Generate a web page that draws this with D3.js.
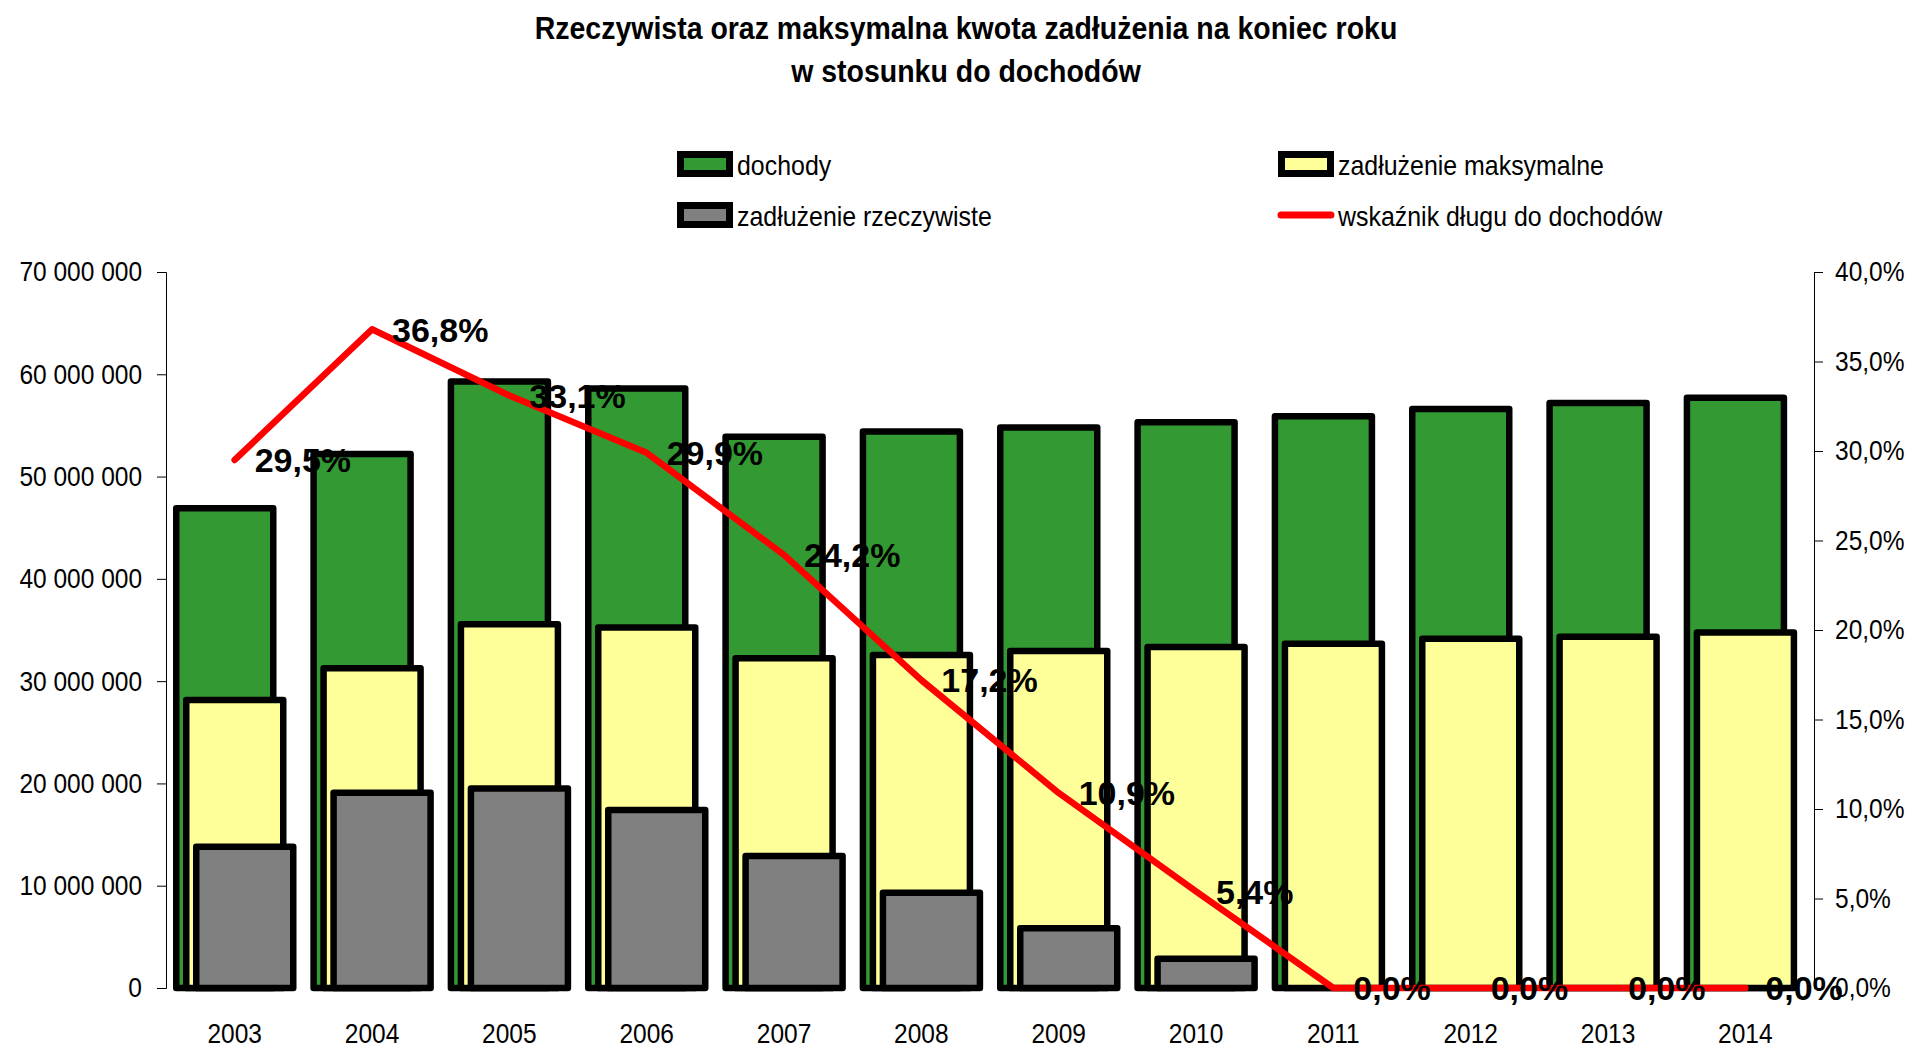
<!DOCTYPE html>
<html><head><meta charset="utf-8">
<script src="https://cdn.jsdelivr.net/npm/d3@7"></script>
<style>
html,body{margin:0;padding:0;background:#fff;}
svg{display:block;}
text{font-family:"Liberation Sans",Arial,sans-serif;}
</style></head>
<body>
<svg id="chart" width="1913" height="1048"></svg>
<script>
const years = ['2003','2004','2005','2006','2007','2008','2009','2010','2011','2012','2013','2014'];
const dochody = [46.9e6, 52.2e6, 59.3e6, 58.6e6, 53.9e6, 54.4e6, 54.8e6, 55.3e6, 55.9e6, 56.6e6, 57.2e6, 57.7e6];
const zadluzenieMaks = [28.15e6, 31.25e6, 35.55e6, 35.25e6, 32.25e6, 32.55e6, 32.95e6, 33.35e6, 33.65e6, 34.15e6, 34.35e6, 34.75e6];
const zadluzenieRzecz = [13.8e6, 19.1e6, 19.5e6, 17.4e6, 12.9e6, 9.3e6, 5.85e6, 2.85e6, 0, 0, 0, 0];
const wskaznik = [29.5, 36.8, 33.1, 29.9, 24.2, 17.2, 10.9, 5.4, 0.0, 0.0, 0.0, 0.0];
const leftTicks = [0, 10e6, 20e6, 30e6, 40e6, 50e6, 60e6, 70e6];
const rightTicks = [0, 5, 10, 15, 20, 25, 30, 35, 40];
const titleLines = ['Rzeczywista oraz maksymalna kwota zadłużenia na koniec roku', 'w stosunku do dochodów'];
const legendItems = [
  {name:'dochody', type:'rect', color:'#339933', col:0, row:0},
  {name:'zadłużenie maksymalne', type:'rect', color:'#FFFF99', col:1, row:0},
  {name:'zadłużenie rzeczywiste', type:'rect', color:'#808080', col:0, row:1},
  {name:'wskaźnik długu do dochodów', type:'line', color:'#FF0000', col:1, row:1}
];

const svg = d3.select('#chart');
const L = 166, R = 1814, T = 272, B = 988;
const x = d3.scaleBand().domain(years).range([L, R]).padding(0);
const yL = d3.scaleLinear().domain([0, 70e6]).range([B, T]);
const yR = d3.scaleLinear().domain([0, 40]).range([B, T]);
const bw = x.bandwidth();
const SW = 6.5;
const fmtL = v => d3.format(',')(v).replace(/,/g, ' ');
const fmtP = v => d3.format('.1f')(v).replace('.', ',') + '%';

function squeeze(sel, f) {
  sel.each(function() {
    const w = this.getComputedTextLength();
    this.setAttribute('textLength', (w * f).toFixed(2));
    this.setAttribute('lengthAdjust', 'spacingAndGlyphs');
  });
}

// title
const tt = svg.append('g').selectAll('text').data(titleLines).join('text')
  .attr('x', 966).attr('y', (d,i) => 39 + i*43)
  .attr('text-anchor','middle').attr('font-weight','bold').attr('font-size', 32)
  .text(d => d);
squeeze(tt, 0.89);

// axes
const gl = svg.append('g').attr('transform', `translate(${L},0)`)
  .call(d3.axisLeft(yL).tickValues(leftTicks).tickFormat(fmtL).tickSize(9).tickPadding(15));
const gr = svg.append('g').attr('transform', `translate(${R},0)`)
  .call(d3.axisRight(yR).tickValues(rightTicks).tickFormat(fmtP).tickSize(9).tickPadding(12));
[gl, gr].forEach(g => {
  g.select('.domain').attr('stroke','#000').attr('stroke-width',1);
  g.selectAll('.tick line').attr('stroke','#000').attr('stroke-width',1);
  g.selectAll('.tick text').attr('font-family','"Liberation Sans",Arial,sans-serif').attr('font-size',28).attr('fill','#000');
  squeeze(g.selectAll('.tick text'), 0.875);
});

// x labels
const gx = svg.append('g').attr('transform', `translate(0,${B})`)
  .call(d3.axisBottom(x).tickSize(0).tickPadding(35));
gx.select('.domain').remove();
gx.selectAll('.tick text').attr('font-family','"Liberation Sans",Arial,sans-serif').attr('font-size',28).attr('fill','#000');
squeeze(gx.selectAll('.tick text'), 0.875);

// bars
const series = [
  {vals: dochody, color:'#339933', off: 10.25},
  {vals: zadluzenieMaks, color:'#FFFF99', off: 20.25},
  {vals: zadluzenieRzecz, color:'#808080', off: 30.25}
];
const barW = 97;
series.forEach(s => {
  svg.append('g').selectAll('rect')
    .data(years.map((yr,i) => ({yr, v: s.vals[i]})).filter(d => d.v > 0))
    .join('rect')
    .attr('x', d => x(d.yr) + s.off)
    .attr('width', barW)
    .attr('y', d => yL(d.v))
    .attr('height', d => yL(0) - yL(d.v))
    .attr('fill', s.color)
    .attr('stroke', '#000').attr('stroke-width', SW).attr('stroke-linejoin','round');
});

// line
const lineData = years.map((yr,i) => ({yr, v: wskaznik[i]}));
svg.append('path').datum(lineData)
  .attr('fill','none').attr('stroke','#FF0000').attr('stroke-width',6.5)
  .attr('stroke-linejoin','round').attr('stroke-linecap','round')
  .attr('d', d3.line().x(d => x(d.yr) + bw/2).y(d => yR(d.v)));

// labels
svg.append('g').selectAll('text').data(lineData).join('text')
  .attr('x', d => x(d.yr) + bw/2 + 20)
  .attr('y', d => yR(d.v))
  .attr('dy','0.36em')
  .attr('font-weight','bold').attr('font-size',34)
  .text(d => fmtP(d.v));

// legend
const lg = svg.append('g');
const colX = [677, 1278], rowY = [151, 202], textX = [737, 1338];
legendItems.forEach(it => {
  const gx0 = colX[it.col], gy0 = rowY[it.row];
  if (it.type === 'rect') {
    lg.append('rect').attr('x', gx0 + 3.5).attr('y', gy0 + 3.5).attr('width', 49).attr('height', 19)
      .attr('fill', it.color).attr('stroke','#000').attr('stroke-width',7);
  } else {
    lg.append('line').attr('x1', gx0 + 3).attr('x2', gx0 + 53).attr('y1', gy0 + 13).attr('y2', gy0 + 13)
      .attr('stroke', it.color).attr('stroke-width', 7).attr('stroke-linecap','round');
  }
  const t = lg.append('text').attr('x', textX[it.col]).attr('y', gy0 + 24)
    .attr('font-size',28).text(it.name);
  squeeze(t, 0.89);
});
</script>
</body></html>
